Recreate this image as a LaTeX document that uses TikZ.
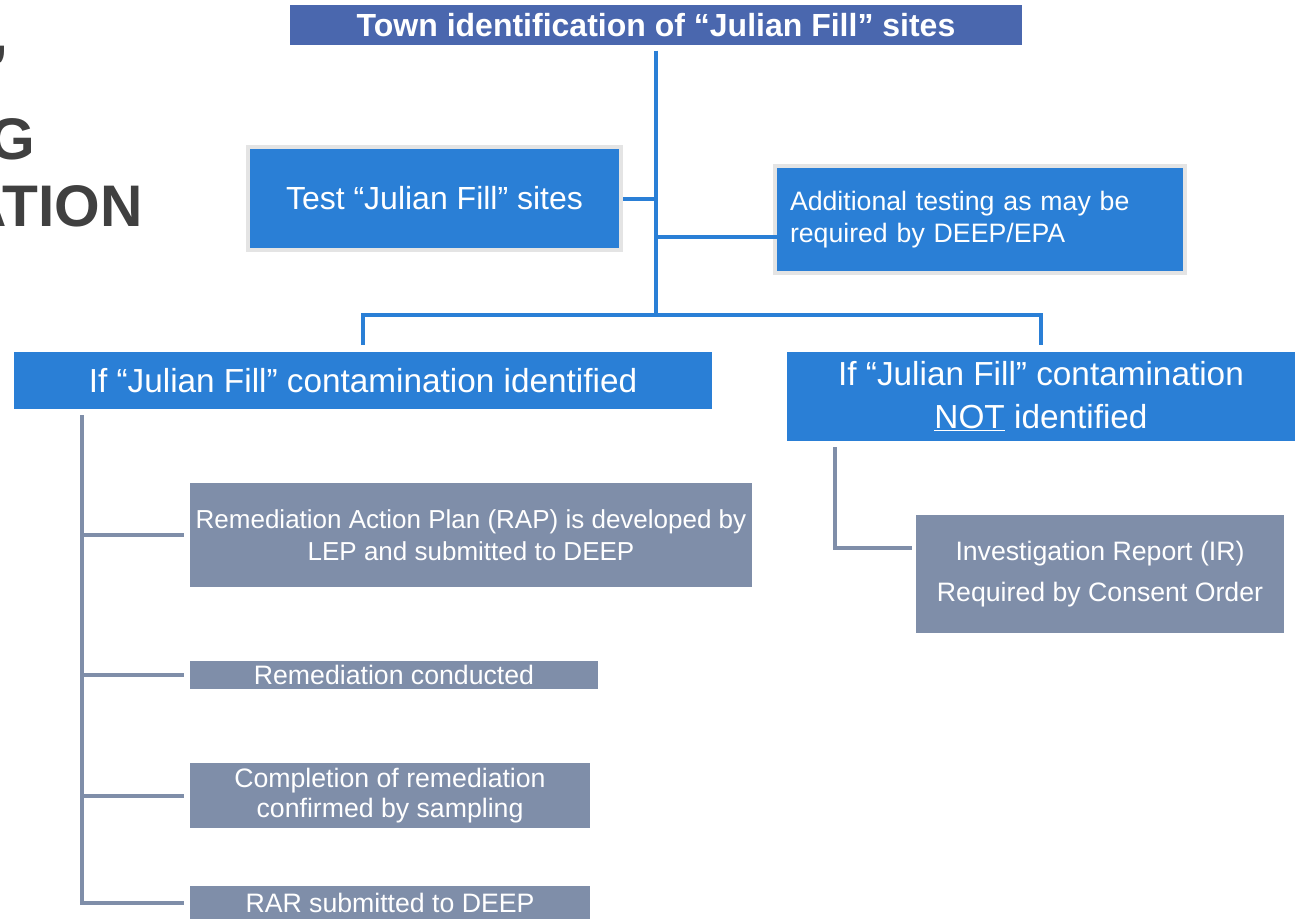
\documentclass[tikz,border=0pt]{standalone}
\usepackage{fontspec}
\setmainfont{Liberation Sans}
\definecolor{townblue}{HTML}{4A67AE}
\definecolor{boxblue}{HTML}{2A7FD6}
\definecolor{slate}{HTML}{7F8EA9}
\definecolor{rim}{HTML}{E4E4E4}
\definecolor{ink}{HTML}{404040}

\begin{document}
\begin{tikzpicture}[x = 0.75pt, y = -0.75pt,
                      bbox/.style = {rectangle, fill = boxblue, text = white, inner sep = 0pt, align = center},
                      gbox/.style = {rectangle, fill = slate, text = white, inner sep = 0pt, align = center, font = \fontsize{20}{24}\selectfont},
                      bline/.style = {draw = boxblue, line width = 3pt},
                      gline/.style = {draw = slate, line width = 3pt},
                      frag/.style = {inner sep = 0pt, anchor = base east, text = ink, font = \fontsize{44}{44}\selectfont\bfseries}]
    \useasboundingbox (0, 0) rectangle (1295, 918);
    \clip (0, 0) rectangle (1295, 918);
    \node [frag] (q) at (9, 86) {”};
    \node [frag] (g) at (35, 159) {G};
    \node [frag] (ation) at (143, 226) {ATION};
    \node [bbox, fill = townblue, minimum width = 549pt, minimum height = 30pt, font = \fontsize{24}{24}\selectfont\bfseries] (town) at (656, 25) {Town identification of “Julian Fill” sites};
    \node [bbox, draw = rim, line width = 3pt, minimum width = 279.75pt, minimum height = 77.25pt, font = \fontsize{24}{24}\selectfont] (test) at (434.5, 198.5) {Test “Julian Fill” sites};
    \node [bbox, draw = rim, line width = 3pt, minimum width = 307pt, minimum height = 80.25pt, align = left, text width = 285pt, inner xsep = 11pt, font = \fontsize{20}{24}\selectfont] (add) at (980, 219.5) {Additional testing as may be\\ required by DEEP/EPA};
    \node [bbox, minimum width = 523.5pt, minimum height = 42.75pt, font = \fontsize{25}{25}\selectfont] (yes) at (363, 380.5) {If “Julian Fill” contamination identified};
    \node [bbox, minimum width = 381pt, minimum height = 66.75pt, font = \fontsize{25}{32}\selectfont] (no) at (1041, 396.5) {If “Julian Fill” contamination\\ \underline{NOT} identified};
    \node [gbox, minimum width = 421.5pt, minimum height = 78pt, font = \fontsize{19.5}{24}\selectfont] (rap) at (471, 535) {Remediation Action Plan (RAP) is developed by\\ LEP and submitted to DEEP};
    \node [gbox, minimum width = 306pt, minimum height = 21pt] (done) at (394, 675) {Remediation conducted};
    \node [gbox, minimum width = 300pt, minimum height = 48.75pt, font = \fontsize{20}{23}\selectfont] (conf) at (390, 795.5) {Completion of remediation\\ confirmed by sampling};
    \node [gbox, minimum width = 300pt, minimum height = 25.5pt] (rar) at (390, 903) {RAR submitted to DEEP};
    \node [gbox, minimum width = 276pt, minimum height = 88.5pt, font = \fontsize{20}{31}\selectfont] (ir) at (1100, 574) {Investigation Report (IR)\\ Required by Consent Order};
    % blue tree
    \coordinate (hub) at (656, 315);
    \coordinate (addin) at (778, 237);
    \draw [bline] ([yshift = -4pt]town.south) -- (hub);
    \draw [bline] (test.east) -- (test.east -| hub);
    \draw [bline] (addin -| hub) -- (addin);
    \draw [bline] ([yshift = 5pt]yes.north) |- (hub) -| ([yshift = 5pt]no.north);
    % grey steps
    \coordinate (ltop) at (82, 415);
    \coordinate (rtop) at (835, 447);
    \coordinate (irin) at (912, 548);
    \draw [gline] (ltop) |- ([xshift = -4pt]rar.west);
    \draw [gline] (ltop |- rap.west) -- ([xshift = -4pt]rap.west);
    \draw [gline] (ltop |- done.west) -- ([xshift = -4pt]done.west);
    \draw [gline] (ltop |- conf.west) -- ([xshift = -4pt]conf.west);
    \draw [gline] (rtop) |- (irin);
\end{tikzpicture}
\end{document}
